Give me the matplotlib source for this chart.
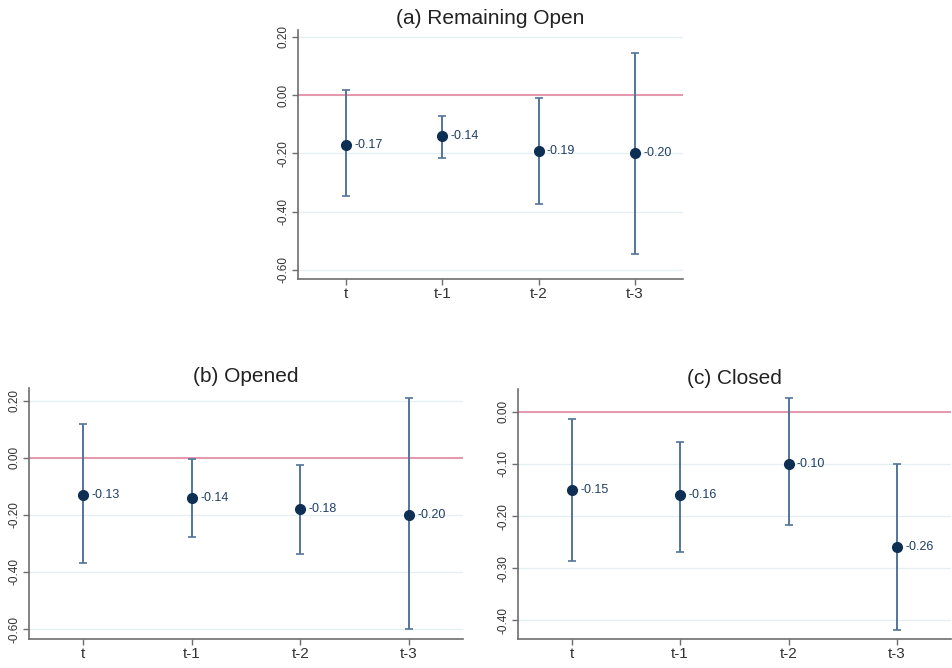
import matplotlib.pyplot as plt
import numpy as np

plt.rcParams['font.family'] = ['Liberation Sans', 'DejaVu Sans']

# Point estimates with 95% confidence intervals by lag
lags = ['t', 't-1', 't-2', 't-3']

open_est = [-0.17, -0.14, -0.19, -0.20]
open_lo = [-0.346, -0.216, -0.374, -0.545]
open_hi = [0.017, -0.072, -0.010, 0.144]

opened_est = [-0.13, -0.14, -0.18, -0.20]
opened_lo = [-0.368, -0.277, -0.337, -0.600]
opened_hi = [0.119, -0.003, -0.025, 0.210]

closed_est = [-0.15, -0.16, -0.10, -0.26]
closed_lo = [-0.287, -0.269, -0.217, -0.419]
closed_hi = [-0.013, -0.058, 0.027, -0.100]

navy = '#0d2f53'
bar_col = '#52759a'
grid_col = '#e4eff1'
zero_col = '#e58fa6'
axis_col = '#6e6e6e'
text_col = '#333333'


def coef_panel(ax, title, est, lo, hi, yticks, ylim):
    x = np.arange(len(lags))
    est = np.array(est)
    err = [est - np.array(lo), np.array(hi) - est]
    for y in yticks:
        ax.axhline(y, color=grid_col, lw=0.9, zorder=0)
    ax.axhline(0, color=zero_col, lw=1.3, zorder=1)
    ax.errorbar(x, est, yerr=err, fmt='none', ecolor=bar_col, elinewidth=1.4,
                capsize=3, capthick=1.2, zorder=2)
    ax.plot(x, est, 'o', color=navy, ms=7, zorder=3)
    for xi, v in zip(x, est):
        ax.annotate(f'{v:.2f}', (xi, v), xytext=(6, 0), textcoords='offset points',
                    va='center', ha='left', fontsize=9, color='#1f3f66')
    ax.set_xlim(-0.5, 3.5)
    ax.set_ylim(*ylim)
    ax.set_xticks(x)
    ax.set_xticklabels(lags, fontsize=11, color=text_col)
    ax.set_yticks(yticks)
    ax.set_yticklabels([f'{y:.2f}' for y in yticks], rotation=90, va='center',
                       fontsize=8.5, color=text_col)
    ax.set_title(title, fontsize=15, color='#222222', pad=4)
    for s in ['top', 'right']:
        ax.spines[s].set_visible(False)
    for s in ['left', 'bottom']:
        ax.spines[s].set_color(axis_col)
        ax.spines[s].set_linewidth(1.2)
    ax.tick_params(color=axis_col, length=4, width=1, pad=2)


fig = plt.figure(figsize=(9.53, 6.68), dpi=100)

ax_a = fig.add_axes([0.3127, 0.5823, 0.404, 0.3728])
coef_panel(ax_a, '(a) Remaining Open', open_est, open_lo, open_hi,
           [0.2, 0.0, -0.2, -0.4, -0.6], (-0.631, 0.224))

ax_b = fig.add_axes([0.0304, 0.0434, 0.4554, 0.3757])
coef_panel(ax_b, '(b) Opened', opened_est, opened_lo, opened_hi,
           [0.2, 0.0, -0.2, -0.4, -0.6], (-0.635, 0.245))

ax_c = fig.add_axes([0.5432, 0.0434, 0.4547, 0.374])
coef_panel(ax_c, '(c) Closed', closed_est, closed_lo, closed_hi,
           [0.0, -0.1, -0.2, -0.3, -0.4], (-0.436, 0.0436))

fig.savefig('out.png', dpi=100)
